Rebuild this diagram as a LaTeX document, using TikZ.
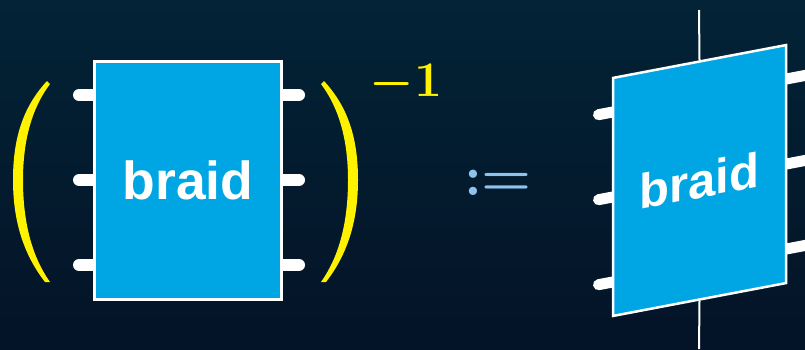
\documentclass[tikz,border=0pt]{standalone}
\usepackage{amsmath,amssymb}
\usepackage{xcolor}
\usepackage{graphicx}
\usepackage{fontspec}
\setsansfont{Liberation Sans}
\usepackage{tikz}
\usetikzlibrary{positioning,calc}
\definecolor{boxblue}{HTML}{00A5E3}
\definecolor{bracketyellow}{HTML}{FFF200}
\definecolor{defblue}{HTML}{8EC4EC}
\definecolor{bgtop}{HTML}{032336}
\definecolor{bgbottom}{HTML}{041327}
\tikzset{
  braidbox/.style={draw=white,fill=boxblue,text=white,align=center,inner sep=0pt,font=\sffamily\bfseries},
  legwire/.style={draw=white,line width=12pt,line cap=round},
  axiswire/.style={draw=white,line width=2pt},
}
\begin{document}
\begin{tikzpicture}[x=1pt,y=-1pt]
  \clip (0,0) rectangle (805,349);
  \shade[top color=bgtop,bottom color=bgbottom] (0,0) rectangle (805,349);
  % left box and its legs
  \foreach \i/\y in {1/95,2/180,3/265} {
    \coordinate (al\i) at (79,\y);
    \coordinate (ar\i) at (299,\y);
    \draw[legwire] (al\i)--(ar\i);
  }
  \node[braidbox,line width=3pt,minimum width=187pt,minimum height=238pt,font=\sffamily\bfseries\fontsize{53.5}{53.5}\selectfont] (bl) at (188,180) {braid};
  % brackets
  \fill[bracketyellow] (47,81) .. controls (22,108) and (13,140) .. (13,180) .. controls (13,222) and (24,255) .. (45,282)
    -- (50,282) .. controls (33,258) and (23,225) .. (23,180) .. controls (23,140) and (32,108) .. (50,84) -- cycle;
  \fill[bracketyellow] (324,81) .. controls (349,108) and (358,140) .. (358,180) .. controls (358,222) and (347,255) .. (326,282)
    -- (321,282) .. controls (338,258) and (348,225) .. (348,180) .. controls (348,140) and (339,108) .. (321,84) -- cycle;
  \node[text=bracketyellow,inner sep=0pt] (inv) at (406,84) {\scalebox{2}{{\Huge\boldmath$\mathbf{-1}$}}};
  \node[text=defblue,inner sep=0pt] (def) at (498,183) {\scalebox{2.3}{{\Huge\boldmath$:=$}}};
  % right box, sheared
  \coordinate (wt) at (699,10);
  \coordinate (wb) at (699,349);
  \begin{scope}[shift={(699.5,180.5)},yslant=0.19]
    \foreach \i/\y in {1/-85,2/0,3/85} {
      \coordinate (bl\i) at (-101,\y);
      \coordinate (br\i) at (112,\y);
      \draw[legwire,line width=11pt] (bl\i)--(br\i);
    }
    \node[braidbox,transform shape,line width=2.5pt,minimum width=173pt,minimum height=238pt,font=\sffamily\bfseries\fontsize{49}{49}\selectfont] (br) at (0,0) {braid};
  \end{scope}
  \draw[axiswire] (wt)--(br.north);
  \draw[axiswire] (br.south)--(wb);
\end{tikzpicture}
\end{document}
